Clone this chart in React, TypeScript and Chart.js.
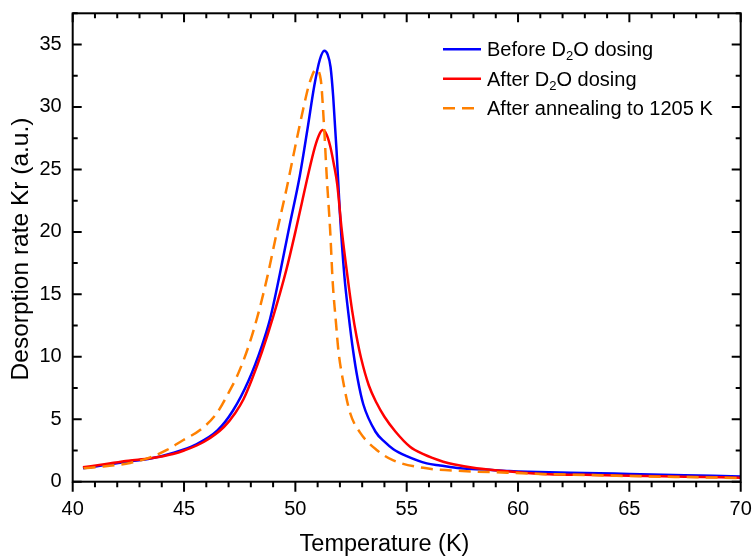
import React, { useEffect, useRef } from 'react';
import { Chart, registerables } from 'chart.js';

Chart.register(...registerables);

const FONT = "'Liberation Sans', Arial, Helvetica, sans-serif";

// Axis ranges and tick steps
const xMin = 40;
const xMax = 70;
const yMin = 0;
const yMax = 37.5;
const xMajorStep = 5;
const xMinorStep = 1;
const yMajorStep = 5;
const yMinorStep = 2.5;

const xTitle = 'Temperature (K)';
const yTitle = 'Desorption rate Kr (a.u.)';

const seriesLabels = ['Before D2O dosing', 'After D2O dosing', 'After annealing to 1205 K'];
const seriesColors = ['#0000FF', '#FF0000', '#FF8000'];

// Before D2O dosing
const beforeT = [40.46, 41.5, 42.5, 43.5, 44.5, 45.5, 46.5, 47.2, 47.9, 48.5, 48.86, 49.15, 49.75, 50.2, 50.55, 50.85, 51.1, 51.3, 51.45, 51.58, 51.7, 51.85, 52.0, 52.2, 52.4, 52.6, 52.8, 53.05, 53.6, 54.0, 54.4, 55.0, 55.9, 56.5, 57.4, 58.5, 59.6, 61.4, 63.0, 65.0, 67.5, 70.0];
const beforeRate = [1.07, 1.35, 1.62, 1.85, 2.3, 2.95, 4.1, 5.7, 8.1, 10.9, 13.0, 15.3, 20.6, 24.5, 28.3, 31.7, 33.8, 34.5, 34.2, 33.2, 30.8, 26.5, 21.5, 16.5, 13.2, 10.4, 8.2, 6.2, 4.0, 3.2, 2.6, 2.05, 1.47, 1.3, 1.07, 0.97, 0.86, 0.75, 0.7, 0.62, 0.52, 0.42];

// After D2O dosing
const afterT = [40.46, 41.5, 42.5, 43.5, 44.5, 45.0, 45.9, 46.8, 47.3, 47.67, 48.05, 48.5, 49.0, 49.6, 50.0, 50.3, 50.55, 50.88, 51.05, 51.22, 51.4, 51.56, 51.72, 51.88, 52.08, 52.38, 52.55, 52.75, 52.95, 53.3, 53.65, 54.0, 54.5, 55.15, 55.75, 56.64, 57.1, 58.14, 59.64, 61.4, 63.0, 65.0, 67.5, 70.0];
const afterRate = [1.15, 1.42, 1.68, 1.88, 2.22, 2.5, 3.2, 4.4, 5.5, 6.6, 8.2, 10.4, 13.2, 17.0, 20.0, 22.4, 24.4, 26.8, 27.7, 28.15, 27.8, 26.9, 25.5, 23.8, 20.2, 15.9, 13.7, 11.6, 9.9, 7.7, 6.3, 5.2, 4.0, 2.8, 2.2, 1.6, 1.39, 1.07, 0.82, 0.6, 0.55, 0.47, 0.4, 0.32];

// After annealing to 1205 K
const annealT = [40.49, 41.38, 42.58, 43.48, 44.23, 44.97, 45.72, 46.47, 47.07, 47.37, 47.89, 48.34, 48.74, 49.16, 49.61, 49.99, 50.36, 50.65, 50.93, 51.14, 51.29, 51.41, 51.56, 51.68, 51.83, 51.93, 52.16, 52.46, 52.9, 53.65, 54.4, 55.9, 57.5, 59.5, 61.4, 63.0, 65.0, 67.5, 70.0];
const annealRate = [1.07, 1.22, 1.5, 1.95, 2.54, 3.34, 4.14, 5.48, 7.35, 8.4, 10.8, 13.5, 16.4, 19.9, 23.5, 26.8, 29.9, 32.0, 33.0, 32.2, 28.4, 24.4, 20.2, 15.9, 12.6, 10.55, 7.9, 5.5, 3.95, 2.54, 1.7, 1.07, 0.86, 0.72, 0.6, 0.54, 0.45, 0.37, 0.3];

const toPoints = (xs: number[], ys: number[]) => xs.map((x, i) => ({ x, y: ys[i] }));

const isMultiple = (v: number, step: number) => Math.abs(v / step - Math.round(v / step)) < 1e-6;

const framePlugin = {
  id: 'frame',
  afterDatasetsDraw(chart: any) {
    const { ctx, chartArea: a, scales } = chart;
    const xs = scales.x;
    const ys = scales.y;
    ctx.save();
    ctx.strokeStyle = '#000';
    ctx.lineWidth = 2;
    ctx.lineCap = 'butt';
    ctx.strokeRect(a.left, a.top, a.right - a.left, a.bottom - a.top);
    ctx.beginPath();
    for (let v = xMin; v <= xMax + 1e-9; v += xMinorStep) {
      const maj = isMultiple(v, xMajorStep);
      const px = xs.getPixelForValue(v);
      ctx.moveTo(px, a.bottom);
      ctx.lineTo(px, a.bottom + (maj ? 10 : 5.5));
      ctx.moveTo(px, a.top);
      ctx.lineTo(px, a.top + (maj ? 9 : 5));
    }
    for (let v = yMin; v <= yMax + 1e-9; v += yMinorStep) {
      const maj = isMultiple(v, yMajorStep);
      const py = ys.getPixelForValue(v);
      const len = maj ? 9 : 5;
      ctx.moveTo(a.left, py);
      ctx.lineTo(a.left + len, py);
      ctx.moveTo(a.right, py);
      ctx.lineTo(a.right - len, py);
    }
    ctx.stroke();
    ctx.restore();
  },
};

const drawSubText = (ctx: any, text: string, x: number, y: number, size: number) => {
  // Renders "D2O" with the 2 as a subscript
  const parts = text.split('D2O');
  let cx = x;
  for (let i = 0; i < parts.length; i++) {
    ctx.font = `${size}px ${FONT}`;
    ctx.fillText(parts[i], cx, y);
    cx += ctx.measureText(parts[i]).width;
    if (i < parts.length - 1) {
      ctx.fillText('D', cx, y);
      cx += ctx.measureText('D').width;
      ctx.font = `${Math.round(size * 0.66)}px ${FONT}`;
      ctx.fillText('2', cx, y + 4);
      cx += ctx.measureText('2').width;
      ctx.font = `${size}px ${FONT}`;
      ctx.fillText('O', cx, y);
      cx += ctx.measureText('O').width;
    }
  }
};

const legendPlugin = {
  id: 'customLegend',
  afterDraw(chart: any) {
    const { ctx } = chart;
    ctx.save();
    chart.data.datasets.forEach((ds: any, i: number) => {
      const y = 49.3 + i * 29.5;
      ctx.strokeStyle = ds.borderColor;
      ctx.lineWidth = ds.borderWidth;
      ctx.setLineDash(ds.borderDash || []);
      ctx.beginPath();
      ctx.moveTo(443, y);
      ctx.lineTo(481, y);
      ctx.stroke();
      ctx.setLineDash([]);
      ctx.fillStyle = '#000';
      ctx.textBaseline = 'alphabetic';
      ctx.textAlign = 'left';
      drawSubText(ctx, ds.label, 487, y + 7, 20);
    });
    ctx.restore();
  },
};

const titlePlugin = {
  id: 'axisTitles',
  afterDraw(chart: any) {
    const { ctx } = chart;
    ctx.save();
    ctx.fillStyle = '#000';
    ctx.textAlign = 'center';
    ctx.textBaseline = 'middle';
    ctx.font = `23.5px ${FONT}`;
    ctx.fillText(xTitle, 384.5, 545);
    ctx.font = `24.5px ${FONT}`;
    ctx.translate(21, 249);
    ctx.rotate(-Math.PI / 2);
    ctx.fillText(yTitle, 0, 0);
    ctx.restore();
  },
};

export default function App() {
  const canvasRef = useRef<HTMLCanvasElement | null>(null);

  useEffect(() => {
    if (!canvasRef.current) return;
    const chart = new Chart(canvasRef.current, {
      type: 'line',
      data: {
        datasets: [
          {
            label: seriesLabels[0],
            data: toPoints(beforeT, beforeRate),
            borderColor: seriesColors[0],
            borderWidth: 2.5,
            pointRadius: 0,
            cubicInterpolationMode: 'monotone',
            order: 3,
          },
          {
            label: seriesLabels[1],
            data: toPoints(afterT, afterRate),
            borderColor: seriesColors[1],
            borderWidth: 2.5,
            pointRadius: 0,
            cubicInterpolationMode: 'monotone',
            order: 2,
          },
          {
            label: seriesLabels[2],
            data: toPoints(annealT, annealRate),
            borderColor: seriesColors[2],
            borderWidth: 2.5,
            borderDash: [12, 7],
            pointRadius: 0,
            cubicInterpolationMode: 'monotone',
            order: 1,
          },
        ],
      },
      options: {
        animation: false,
        responsive: false,
        maintainAspectRatio: false,
        devicePixelRatio: 1,
        layout: { padding: { top: 13.3, right: 13.3, left: 0, bottom: 0 } },
        plugins: {
          legend: { display: false },
          tooltip: { enabled: false },
          title: { display: false },
        },
        scales: {
          x: {
            type: 'linear',
            min: xMin,
            max: xMax,
            grid: { display: false, drawTicks: false },
            border: { display: false },
            ticks: {
              stepSize: xMajorStep,
              color: '#000',
              font: { family: FONT, size: 20 },
              padding: 16,
              maxRotation: 0,
            },
            afterFit: (s: any) => {
              s.height = 557 - 481.7;
              s.paddingLeft = 0;
              s.paddingRight = 0;
              s.paddingTop = 0;
              s.paddingBottom = 0;
            },
          },
          y: {
            type: 'linear',
            min: yMin,
            max: yMax,
            grid: { display: false, drawTicks: false },
            border: { display: false },
            ticks: {
              stepSize: yMajorStep,
              color: '#000',
              font: { family: FONT, size: 20 },
              padding: 11,
            },
            afterBuildTicks: (s: any) => {
              s.ticks = s.ticks.filter((t: any) => isMultiple(t.value, yMajorStep));
            },
            afterFit: (s: any) => {
              s.width = 72.7;
              s.paddingLeft = 0;
              s.paddingRight = 0;
              s.paddingTop = 0;
              s.paddingBottom = 0;
            },
          },
        },
      },
      plugins: [framePlugin, legendPlugin, titlePlugin],
    } as any);
    return () => chart.destroy();
  }, []);

  return (
    <div style={{ position: 'fixed', left: 0, top: 0, width: 754, height: 557, background: '#fff' }}>
      <canvas ref={canvasRef} width={754} height={557} style={{ width: 754, height: 557 }} />
    </div>
  );
}
